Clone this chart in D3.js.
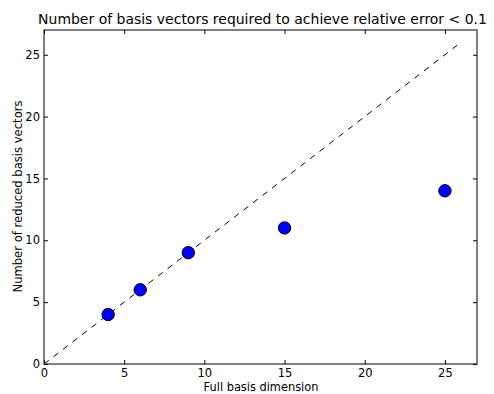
<!DOCTYPE html>
<html><head><meta charset="utf-8">
<script src="https://cdn.jsdelivr.net/npm/d3@7"></script>
<style>body{margin:0;background:#fff}text{font-family:"DejaVu Sans",sans-serif}</style>
</head><body>
<svg id="c" width="494" height="394"></svg>
<script>
const fullDim = [4, 6, 9, 15, 25];
const reducedDim = [4, 6, 9, 11, 14];
const refLine = [0, 26];
const xTicks = [0, 5, 10, 15, 20, 25];
const yTicks = [0, 5, 10, 15, 20, 25];

const svg = d3.select("#c");
const m = {l:44, r:17, t:30, b:30};
const W = 494, H = 394;
const x = d3.scaleLinear().domain([0,27]).range([m.l, W-m.r]);
const y = d3.scaleLinear().domain([0,27]).range([H-m.b, m.t]);

svg.append("path")
  .attr("d", d3.line().x(d=>x(d)).y(d=>y(d))(refLine))
  .attr("stroke","#000").attr("stroke-width",1).attr("stroke-dasharray","6,6").attr("fill","none");

svg.selectAll("circle.p").data(fullDim).enter().append("circle")
  .attr("cx",(d)=>x(d)).attr("cy",(d,i)=>y(reducedDim[i])).attr("r",6.2)
  .attr("fill","#0000ff").attr("stroke","#000").attr("stroke-width",1);

const fs = "11.5px";
const gB = svg.append("g").attr("transform",`translate(0,${H-m.b})`)
  .call(d3.axisBottom(x).tickValues(xTicks).tickSize(-4).tickPadding(5));
const gT = svg.append("g").attr("transform",`translate(0,${m.t})`)
  .call(d3.axisTop(x).tickValues(xTicks).tickSize(-4).tickFormat(""));
const gL = svg.append("g").attr("transform",`translate(${m.l},0)`)
  .call(d3.axisLeft(y).tickValues(yTicks).tickSize(-4).tickPadding(4));
const gR = svg.append("g").attr("transform",`translate(${W-m.r},0)`)
  .call(d3.axisRight(y).tickValues(yTicks).tickSize(-4).tickFormat(""));
[gB,gT,gL,gR].forEach(g=>{
  g.select(".domain").remove();
  g.selectAll("line").attr("stroke","#000");
  g.selectAll("text").attr("font-size",fs).attr("fill","#000").style("font-family","DejaVu Sans");
});
svg.append("rect").attr("x",m.l).attr("y",m.t).attr("width",W-m.l-m.r).attr("height",H-m.t-m.b)
  .attr("fill","none").attr("stroke","#000").attr("stroke-width",1);

function fit(sel, target){
  const w = sel.node().getComputedTextLength();
  const f = parseFloat(sel.attr("font-size"));
  sel.attr("font-size", (f*target/w).toFixed(2)+"px");
}
const xl = svg.append("text").attr("x",261).attr("y",390.5).attr("text-anchor","middle")
  .attr("font-size","11px").text("Full basis dimension");
fit(xl,115);
const yl = svg.append("text").attr("transform",`translate(22,196.5) rotate(-90)`).attr("text-anchor","middle")
  .attr("font-size","11px").text("Number of reduced basis vectors");
fit(yl,192);
const tl = svg.append("text").attr("x",262.5).attr("y",24).attr("text-anchor","middle")
  .attr("font-size","13.3px").text("Number of basis vectors required to achieve relative error < 0.1");
fit(tl,449);
</script>
</body></html>
